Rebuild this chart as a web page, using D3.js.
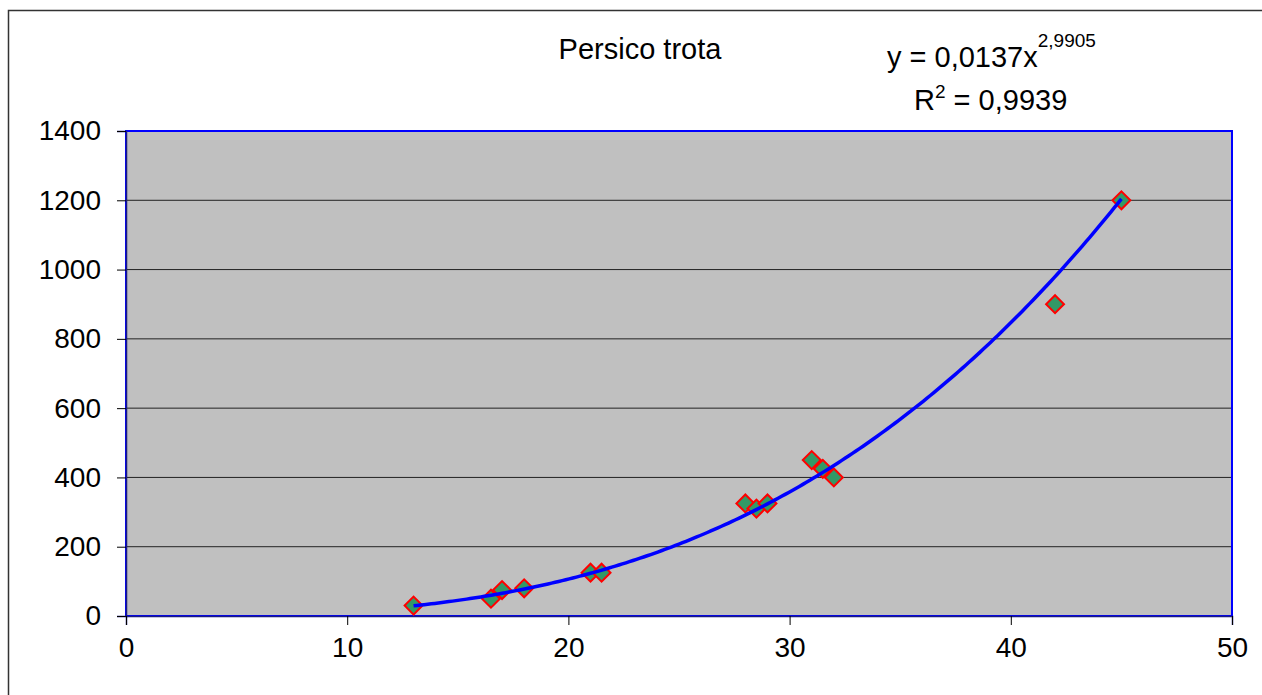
<!DOCTYPE html>
<html>
<head>
<meta charset="utf-8">
<script src="https://cdn.jsdelivr.net/npm/d3@7"></script>
<style>
  html, body { margin: 0; padding: 0; background: #fff; }
  svg { display: block; }
  text { font-family: "Liberation Sans", Arial, sans-serif; fill: #000; }
</style>
</head>
<body>
<svg id="chart" width="1262" height="695"></svg>
<script>
// ---- data ----
const lengths = [13, 16.5, 17, 18, 21, 21.5, 28, 28.5, 29, 31, 31.5, 32, 42, 45];
const weights = [30, 50, 75, 80, 125, 125, 325, 310, 325, 450, 425, 400, 900, 1200];
const xTicks = [0, 10, 20, 30, 40, 50];
const yTicks = [0, 200, 400, 600, 800, 1000, 1200, 1400];
const title = "Persico trota";
// power trendline shown on chart: y = 0,0137 x^2,9905
const trendA = 0.0137;
const trendB = 2.9905;
const trendLabelMain = "y = 0,0137x";
const trendLabelExp = "2,9905";
const r2Label = "0,9939";

// ---- layout ----
const svg = d3.select("#chart");
const L = 126, T = 131, R = 1232, B = 616;

const x = d3.scaleLinear().domain([0, 50]).range([L, R]);
const y = d3.scaleLinear().domain([0, 1400]).range([B, T]);

// outer chart border
svg.append("rect")
  .attr("x", 8.5).attr("y", 10.5)
  .attr("width", 1262).attr("height", 700)
  .attr("fill", "#fff").attr("stroke", "#333").attr("stroke-width", 1.5);

// plot area
svg.append("rect")
  .attr("x", L).attr("y", T).attr("width", R - L).attr("height", B - T)
  .attr("fill", "#C0C0C0");

// gridlines
svg.append("g").selectAll("line")
  .data(yTicks.filter(d => d > 0 && d < 1400))
  .join("line")
  .attr("x1", L).attr("x2", R)
  .attr("y1", d => y(d)).attr("y2", d => y(d))
  .attr("stroke", "#222").attr("stroke-width", 1);

// plot border (blue)
svg.append("rect")
  .attr("x", L).attr("y", T).attr("width", R - L).attr("height", B - T)
  .attr("fill", "none").attr("stroke", "#0000FF").attr("stroke-width", 2);

// axes
const yAxis = d3.axisLeft(y).tickValues(yTicks).tickSize(9).tickPadding(16).tickFormat(d3.format("d"));
const gy = svg.append("g").attr("transform", `translate(${L},0)`).call(yAxis);
gy.select(".domain").attr("stroke", "#1a1a80").attr("stroke-width", 1.5);
gy.selectAll(".tick line").attr("stroke", "#000");
gy.selectAll(".tick text")
  .style("font-family", '"Liberation Sans", Arial, sans-serif')
  .style("font-size", "28px").attr("fill", "#000");

const xAxis = d3.axisBottom(x).tickValues(xTicks).tickSize(9).tickPadding(12).tickFormat(d3.format("d"));
const gx = svg.append("g").attr("transform", `translate(0,${B})`).call(xAxis);
gx.select(".domain").attr("stroke", "#1a1a80").attr("stroke-width", 1.5);
gx.selectAll(".tick line").attr("stroke", "#000");
gx.selectAll(".tick text")
  .style("font-family", '"Liberation Sans", Arial, sans-serif')
  .style("font-size", "28px").attr("fill", "#000");

// points
const sym = d3.symbol().type(d3.symbolSquare).size(160);
svg.append("g").selectAll("path")
  .data(lengths.map((l, i) => [l, weights[i]]))
  .join("path")
  .attr("d", sym)
  .attr("transform", d => `translate(${x(d[0])},${y(d[1])}) rotate(45)`)
  .attr("fill", "#339966")
  .attr("stroke", "#FF0000")
  .attr("stroke-width", 2);

// trendline (from displayed fit coefficients)
const xMin = d3.min(lengths), xMax = d3.max(lengths);
const trendPts = d3.range(xMin, xMax + 0.001, (xMax - xMin) / 200)
  .map(v => [v, trendA * Math.pow(v, trendB)]);
svg.append("path")
  .datum(trendPts)
  .attr("d", d3.line().x(d => x(d[0])).y(d => y(d[1])))
  .attr("fill", "none")
  .attr("stroke", "#0000FF")
  .attr("stroke-width", 3.5);

// title
svg.append("text")
  .attr("x", 640).attr("y", 59)
  .attr("text-anchor", "middle")
  .style("font-size", "29px")
  .text(title);

// equation
const eq = svg.append("text").attr("x", 887).attr("y", 67).style("font-size", "29px");
eq.append("tspan").text(trendLabelMain);
eq.append("tspan").attr("dy", -20).style("font-size", "19px").text(trendLabelExp);

const r2 = svg.append("text").attr("x", 914).attr("y", 110).style("font-size", "29px");
r2.append("tspan").text("R");
r2.append("tspan").attr("dy", -12).style("font-size", "19px").text("2");
r2.append("tspan").attr("dy", 12).text(" = " + r2Label);
</script>
</body>
</html>
